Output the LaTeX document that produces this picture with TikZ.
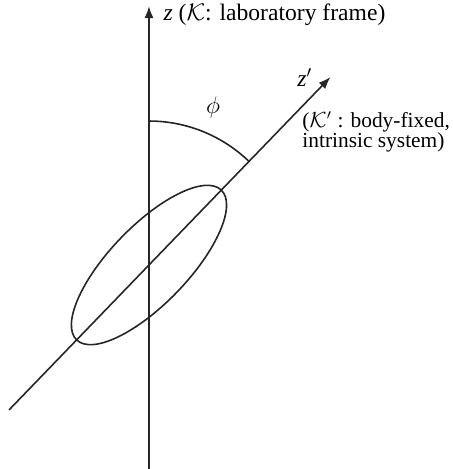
\documentclass[tikz,border=0pt]{standalone}
\usepackage{amsmath}
\usepackage{fontspec}
\setmainfont{Liberation Serif}
\usetikzlibrary{arrows.meta}

\begin{document}
\begin{tikzpicture}[
        axis/.style={line width=0.8pt, black!85, -{Latex[length=6pt,width=4.5pt]}},
        curve/.style={line width=0.8pt, black!85},
        lbl/.style={font=\fontsize{11.8}{10.5}\selectfont, inner sep=0pt}
    ]
        \useasboundingbox (-2.618,-3.585) rectangle (5.342,4.657);

        % Origin where both axes cross
        \coordinate (O) at (0,0);

        % Laboratory axis z
        \coordinate (zbot) at (0,-3.6);
        \draw[axis] (zbot) -- (0,4.55) coordinate (ztip);
        \node[lbl, anchor=west] (lab) at (0.25,4.39) {\textit{z} ($\mathcal{K}$: laboratory frame)};

        % Body-fixed axis z'
        \coordinate (zpbot) at (226:3.54);
        \draw[axis] (zpbot) -- (46:4.59) coordinate (zptip);
        \node[lbl] (zp) at (2.74,3.30) {\textit{z}$'$};
        \node[lbl, font=\fontsize{10.7}{10.3}\selectfont, anchor=west, align=left] (body) at (2.69,2.34) {($\mathcal{K}'$ : body-fixed,\\intrinsic system)};

        % Deformed body
        \draw[curve, rotate=46] (O) ellipse (1.83 and 0.685);

        % Tilt angle
        \draw[curve] (90:2.53) arc (90:46:2.53);
        \node[lbl, font=\fontsize{13}{13}\selectfont] (phi) at (1.125,2.76) {$\phi$};
    \end{tikzpicture}
\end{document}
